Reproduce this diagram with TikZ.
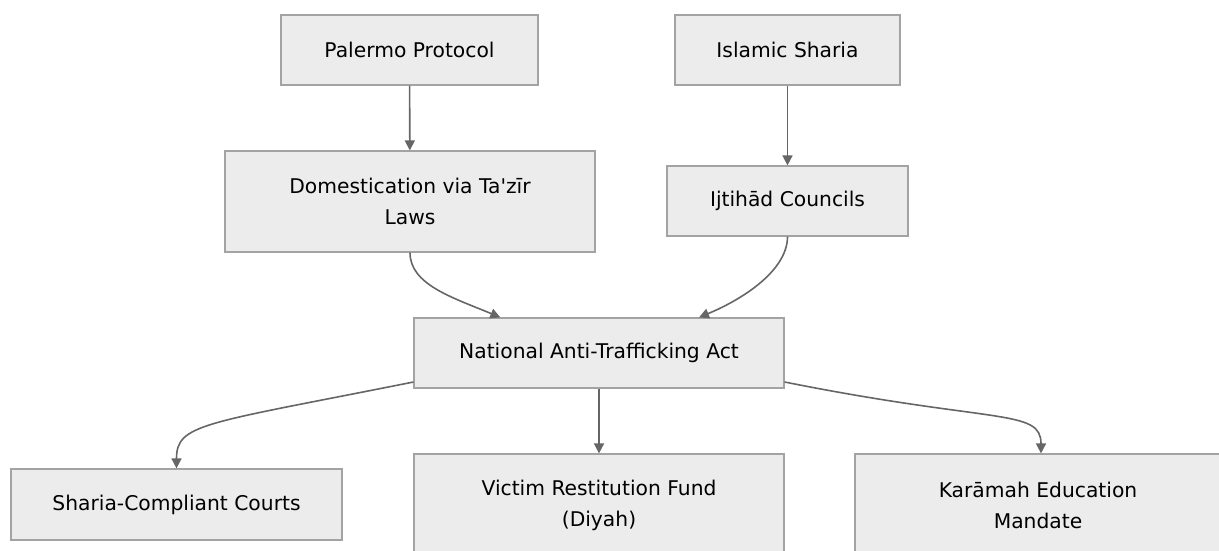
\documentclass[tikz,border=0pt]{standalone}
\usepackage{fontspec}
\setmainfont{DejaVu Sans}[Ligatures=TeXOff]
\usetikzlibrary{arrows.meta}
\definecolor{boxfill}{HTML}{ECECEC}
\definecolor{boxline}{HTML}{A3A3A3}
\definecolor{edgeline}{HTML}{666666}
\begin{document}
\begin{tikzpicture}[x=0.75pt,y=-0.75pt,
    box/.style={draw=boxline,fill=boxfill,line width=0.9pt,inner sep=0pt,align=center,
      font=\fontsize{15.2}{23.25}\selectfont},
    edge/.style={draw=edgeline,line width=1.2pt,-{Triangle[length=7.5pt,width=7.5pt]}}]
  \useasboundingbox (0,0) rectangle (1219,550);
  % sources
  \node[box,minimum width=192.75pt,minimum height=52.5pt] (palermo) at (409.5,50) {Palermo Protocol};
  \node[box,minimum width=168.75pt,minimum height=52.5pt] (sharia) at (787.5,50) {Islamic Sharia};
  % second row
  \node[box,minimum width=277.5pt,minimum height=75.75pt] (domest) at (410,201.5) {Domestication via Ta'zīr\\Laws};
  \node[box,minimum width=180.75pt,minimum height=52.5pt] (ijtihad) at (787.5,201) {Ijtihād Councils};
  % the act
  \node[box,minimum width=277.5pt,minimum height=52.5pt] (natact) at (599,353) {National Anti-Trafficking Act};
  % outcomes
  \node[box,minimum width=248.25pt,minimum height=53.25pt] (courts) at (176.5,504.5) {Sharia-Compliant Courts};
  \node[box,minimum width=277.5pt,minimum height=76.5pt] (restit) at (599,505) {Victim Restitution Fund\\(Diyah)};
  \node[box,minimum width=274.5pt,minimum height=76.5pt] (karamah) at (1038,505) {Karāmah Education\\Mandate};
  % arrows
  \draw[edge] (palermo) -- (domest);
  \draw[edge] (sharia) -- (ijtihad);
  \draw[edge] (domest.south) .. controls +(0,32) and +(-48,-20) .. ([xshift=-74pt]natact.north);
  \draw[edge] (ijtihad.south) .. controls +(0,32) and +(48,-20) .. ([xshift=75pt]natact.north);
  \draw[edge] ([yshift=-21.75pt]natact.west) .. controls +(-210,42) and +(0,-45) .. (courts.north);
  \draw[edge] (natact) -- (restit);
  \draw[edge] ([yshift=-21.75pt]natact.east) .. controls +(210,42) and +(0,-45) .. ([xshift=2.25pt]karamah.north);
\end{tikzpicture}
\end{document}
